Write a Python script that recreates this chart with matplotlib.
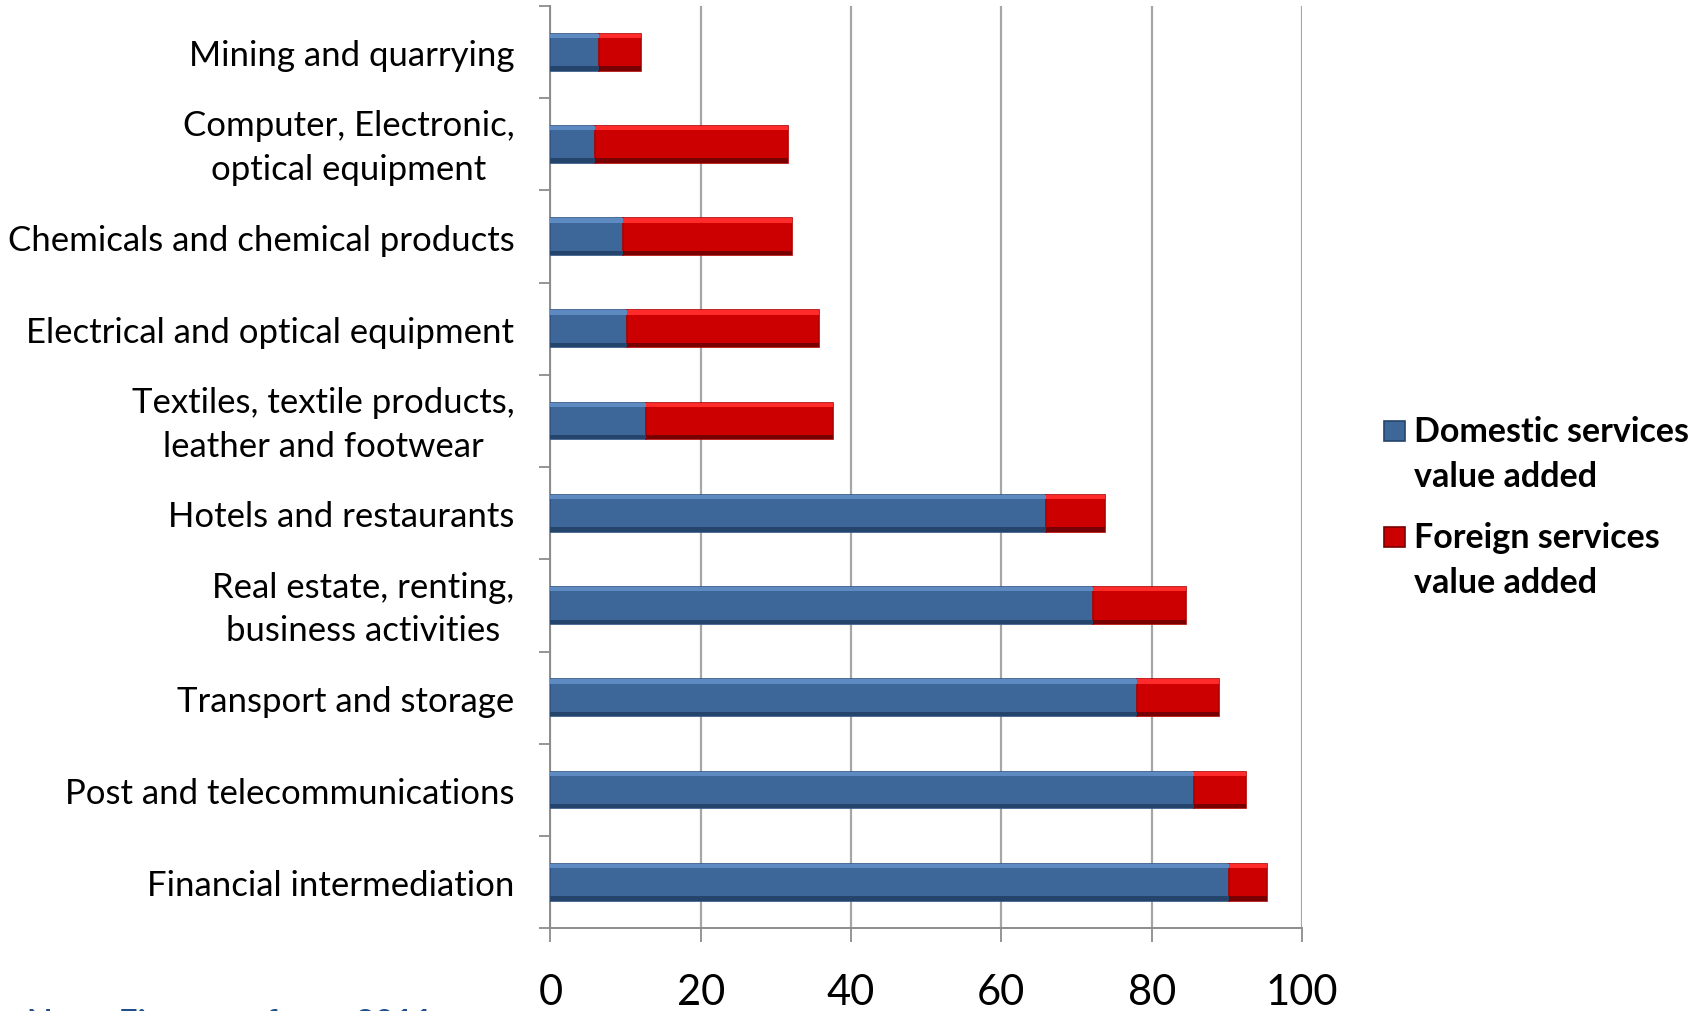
import numpy as np
import matplotlib
matplotlib.use("Agg")
import matplotlib.pyplot as plt
import matplotlib.transforms as mtrans
from matplotlib.patches import Rectangle

plt.rcParams['font.family'] = ['Lato', 'DejaVu Sans']

# services value added in exports, by industry (% of gross exports)
industries = [
    "Mining and quarrying",
    "Computer, Electronic,\noptical equipment",
    "Chemicals and chemical products",
    "Electrical and optical equipment",
    "Textiles, textile products,\nleather and footwear",
    "Hotels and restaurants",
    "Real estate, renting,\nbusiness activities",
    "Transport and storage",
    "Post and telecommunications",
    "Financial intermediation",
]
domestic = [6.5, 6.0, 9.6, 10.2, 12.7, 66.0, 72.2, 78.1, 85.7, 90.3]
foreign = [5.5, 25.6, 22.5, 25.6, 24.9, 7.8, 12.4, 10.9, 6.8, 5.1]
legend_labels = ["Domestic services\nvalue added", "Foreign services\nvalue added"]
x_ticks = [0, 20, 40, 60, 80, 100]

blue = dict(main="#3D6699", light="#5E8AC2", dark="#24446B", edge="#2E5282")
red = dict(main="#CC0000", light="#FF2B2B", dark="#780000", edge="#B00000")

fig = plt.figure(figsize=(17.05, 10.12), dpi=100)
ax = fig.add_axes([0.3228, 0.0817, 0.4408, 0.9114])

y = np.arange(len(industries))
h = 0.40
s = h * 0.12


def bevel_bars(left, width, c):
    ax.barh(y, width, left=left, height=h, color=c["main"],
            edgecolor=c["edge"], linewidth=1.2, zorder=3)
    # light top edge and dark bottom edge give the bars a raised look
    ax.barh(y - h / 2 + s / 2, width, left=left, height=s,
            color=c["light"], linewidth=0, zorder=4)
    ax.barh(y + h / 2 - s / 2, width, left=left, height=s,
            color=c["dark"], linewidth=0, zorder=4)


dom = np.array(domestic)
frn = np.array(foreign)
bevel_bars(0, dom, blue)
bevel_bars(dom, frn, red)

ax.set_xlim(0, 100)
ax.set_ylim(len(industries) - 0.5, -0.5)
ax.set_xticks(x_ticks)
ax.set_xticklabels([str(t) for t in x_ticks], fontsize=30)
ax.set_yticks(y)
ax.set_yticklabels(industries, fontsize=25, multialignment="center",
                   linespacing=1.45)
ax.set_yticks(np.arange(len(industries) + 1) - 0.5, minor=True)

ax.tick_params(axis="y", which="major", length=0, pad=26)
ax.tick_params(axis="y", which="minor", length=8, width=1.3, color="#8C8C8C",
               direction="out")
ax.tick_params(axis="x", which="major", length=10, width=1.3, color="#8C8C8C",
               direction="out", pad=22)

# two-line labels sit a bit low when centred; nudge them up
lift = mtrans.ScaledTranslation(0, 6 / 100, fig.dpi_scale_trans)
for tick in ax.yaxis.get_major_ticks():
    if "\n" in tick.label1.get_text():
        tick.label1.set_transform(tick.label1.get_transform() + lift)

ax.grid(axis="x", color="#A6A6A6", linewidth=1.6, zorder=0)
ax.set_axisbelow(True)
for side in ["top", "right"]:
    ax.spines[side].set_visible(False)
for side in ["left", "bottom"]:
    ax.spines[side].set_color("#8C8C8C")
    ax.spines[side].set_linewidth(1.4)

# legend drawn by hand so the swatch sits on the first text line
for i, (lab, c) in enumerate(zip(legend_labels, [blue, red])):
    ty = 1 - (432 + 106 * i) / 1012
    fig.add_artist(Rectangle((1384 / 1705, ty - 10 / 1012), 21 / 1705, 20 / 1012,
                             transform=fig.transFigure, facecolor=c["main"],
                             edgecolor=c["dark"], linewidth=1.2))
    fig.text(1414 / 1705, ty + 16 / 1012, lab, fontsize=24.5, fontweight="bold",
             va="top", ha="left", linespacing=1.5)

fig.text(27 / 1705, -21 / 1012, "Note: Figures refer to 2011", fontsize=24,
         fontweight="bold", color="#1F4E8C", va="baseline", ha="left")

fig.savefig("out.png", dpi=100)
